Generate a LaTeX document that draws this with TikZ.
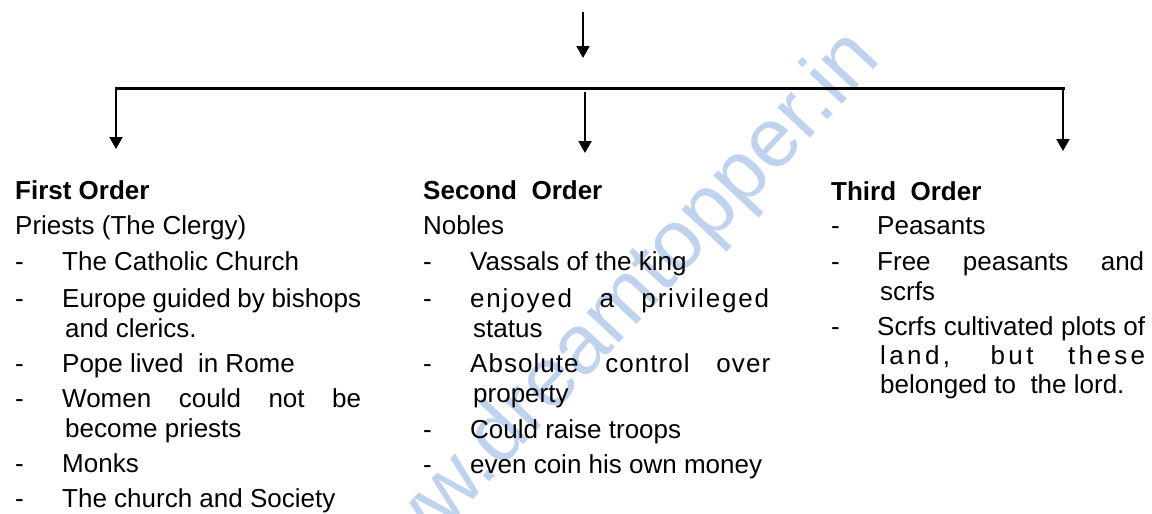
\documentclass[tikz,border=0pt]{standalone}
\usepackage{fontspec}
\setmainfont{Liberation Sans}
\usetikzlibrary{arrows.meta}
\definecolor{wmblue}{RGB}{192,211,238}
\newcommand\jl[2]{\makebox[#1][s]{#2}}
\begin{document}
\begin{tikzpicture}[x=1pt,y=-1pt,
  txt/.style={anchor=base west, inner sep=0pt, font=\fontsize{26}{30}\selectfont},
  hdr/.style={anchor=base west, inner sep=0pt, font=\fontsize{26}{30}\selectfont\bfseries},
  conn/.style={line width=2pt, -{Triangle[width=13pt,length=12pt]}},
  bar/.style={line width=3pt, line cap=rect},
  wm/.style={anchor=base east, inner sep=0pt, rotate=47, text=wmblue, font=\fontsize{84}{84}\selectfont}]
\useasboundingbox (0,0) rectangle (1152,514);
\begin{scope}
  \clip (0,0) rectangle (1152,514);
  \node[wm] (wm) at (883,60) {www.dreamtopper.in};
\end{scope}

% connectors
\coordinate (top) at (583,12);
\coordinate (topend) at (583,58);
\coordinate (barL) at (116,88);
\coordinate (barR) at (1063,88);
\coordinate (midS) at (585,92);
\coordinate (a1) at (116,149);
\coordinate (a2) at (585,153);
\coordinate (a3) at (1063,151);
\draw[conn] (top) -- (topend);
\draw[bar] (barL) -- (barR);
\draw[conn] (barL) -- (a1);
\draw[conn] (midS) -- (a2);
\draw[conn] (barR) -- (a3);

% first column
\node[hdr] (h1) at (15,199) {First Order};
\node[txt] (p1) at (15,234) {Priests (The Clergy)};
\node[txt] (d11) at (15,270) {-}; \node[txt] (t11) at (62,270) {The Catholic Church};
\node[txt] (d12) at (15,307) {-}; \node[txt] (t12) at (62,307) {\jl{299pt}{Europe guided by bishops}};
\node[txt] (t12b) at (65,337) {and clerics.};
\node[txt] (d13) at (15,372) {-}; \node[txt] (t13) at (62,372) {Pope lived\ \ in Rome};
\node[txt] (d14) at (15,407) {-}; \node[txt] (t14) at (62,407) {\jl{299pt}{Women could not be}};
\node[txt] (t14b) at (65,437) {become priests};
\node[txt] (d15) at (15,472) {-}; \node[txt] (t15) at (62,472) {Monks};
\node[txt] (d16) at (15,507) {-}; \node[txt] (t16) at (62,507) {The church and Society};

% second column
\node[hdr] (h2) at (423,199) {Second\ \ Order};
\node[txt] (p2) at (423,234) {Nobles};
\node[txt] (d21) at (423,270) {-}; \node[txt] (t21) at (470,270) {Vassals of the king};
\node[txt] (d22) at (423,307) {-}; \node[txt] (t22) at (470,307) {\addfontfeature{LetterSpace=7}\jl{299pt}{enjoyed a privileged}};
\node[txt] (t22b) at (473,337) {status};
\node[txt] (d23) at (423,372) {-}; \node[txt] (t23) at (470,372) {\addfontfeature{LetterSpace=4}\jl{300pt}{Absolute control over}};
\node[txt] (t23b) at (473,402) {property};
\node[txt] (d24) at (423,438) {-}; \node[txt] (t24) at (470,438) {Could raise troops};
\node[txt] (d25) at (423,473) {-}; \node[txt] (t25) at (470,473) {even coin his own money};

% third column
\node[hdr] (h3) at (831,200) {Third\ \ Order};
\node[txt] (d31) at (831,234) {-}; \node[txt] (t31) at (877,234) {Peasants};
\node[txt] (d32) at (831,270) {-}; \node[txt] (t32) at (877,270) {\jl{267pt}{Free peasants and}};
\node[txt] (t32b) at (880,300) {scrfs};
\node[txt] (d33) at (831,335) {-}; \node[txt] (t33) at (877,335) {\jl{268pt}{Scrfs cultivated plots of}};
\node[txt] (t33b) at (880,364) {\addfontfeature{LetterSpace=13}\jl{265pt}{land, but these}};
\node[txt] (t33c) at (880,393) {belonged to\ \ the lord.};
\end{tikzpicture}
\end{document}
